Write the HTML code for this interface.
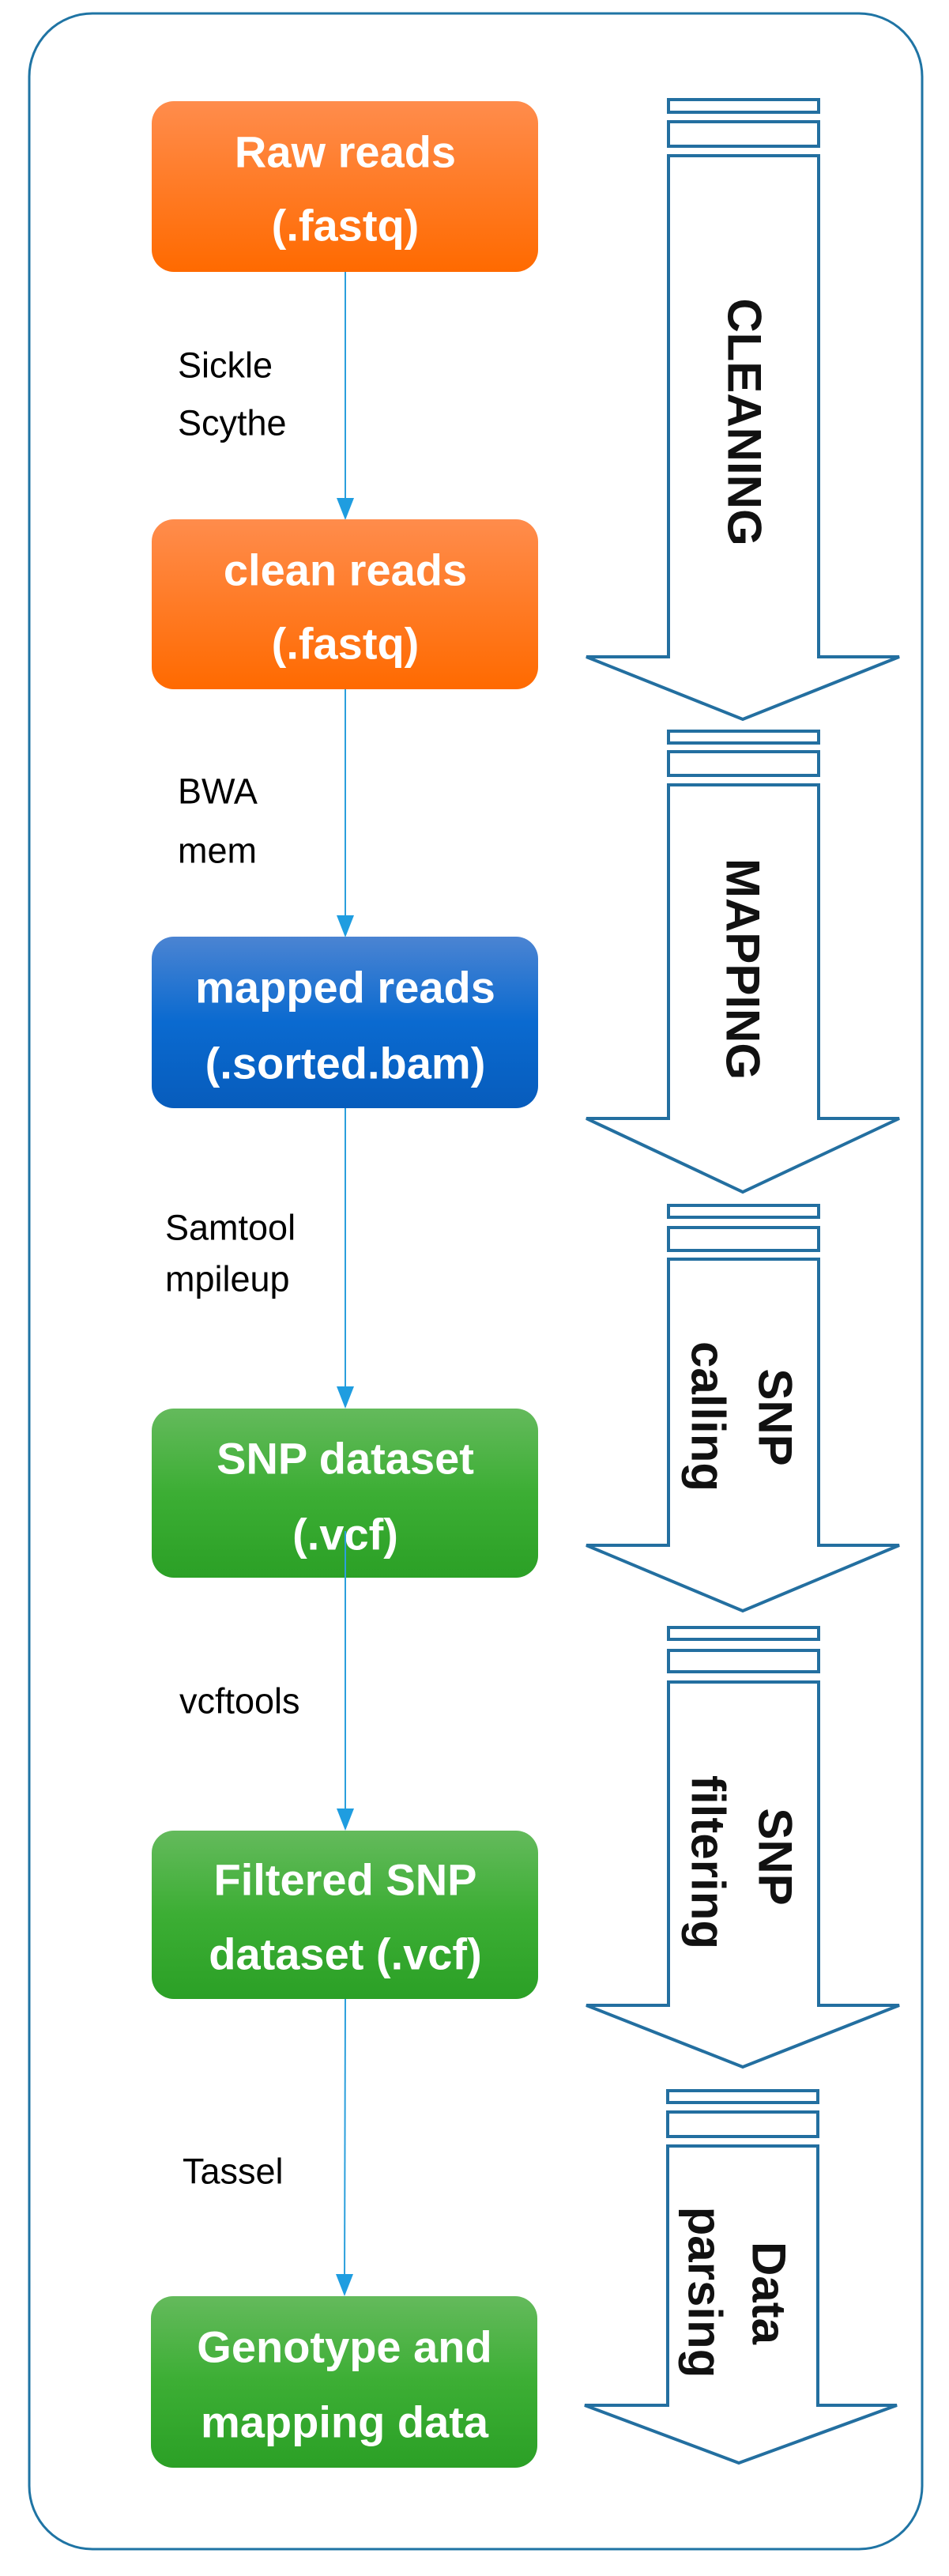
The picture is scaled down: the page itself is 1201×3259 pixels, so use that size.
<!DOCTYPE html>
<html><head><meta charset="utf-8"><style>
html,body{margin:0;padding:0;background:#fff}
svg{display:block}
.lbl{font-family:"Liberation Sans",sans-serif;font-size:45px;fill:#000}
.bt{font-family:"Liberation Sans",sans-serif;font-size:56px;font-weight:bold;fill:#fff;text-anchor:middle;dominant-baseline:central}
.rt{font-family:"Liberation Sans",sans-serif;font-size:60px;font-weight:bold;fill:#111;text-anchor:middle;dominant-baseline:central}
.ar{fill:#fff;stroke:#236fa0;stroke-width:4}
</style></head><body>
<svg width="1201" height="3259" viewBox="0 0 1201 3259" xmlns="http://www.w3.org/2000/svg">
<defs>
<linearGradient id="go" x1="0" y1="0" x2="0" y2="1"><stop offset="0" stop-color="#ff8c4c"/><stop offset="1" stop-color="#ff6a00"/></linearGradient>
<linearGradient id="gb" x1="0" y1="0" x2="0" y2="1"><stop offset="0" stop-color="#4b84d2"/><stop offset="0.5" stop-color="#0a6ad0"/><stop offset="1" stop-color="#075cbc"/></linearGradient>
<linearGradient id="gg" x1="0" y1="0" x2="0" y2="1"><stop offset="0" stop-color="#64ba5c"/><stop offset="0.5" stop-color="#3cae34"/><stop offset="1" stop-color="#2ba026"/></linearGradient>
</defs>
<rect x="37" y="17" width="1130" height="3208" rx="80" ry="80" fill="#fff" stroke="#1f74a4" stroke-width="3"/>

<g stroke="#2b9fdc" stroke-width="2">
<line x1="437" y1="344" x2="437" y2="640"/>
<line x1="437" y1="872" x2="437" y2="1168"/>
<line x1="437" y1="1402" x2="437" y2="1764"/>
<line x1="437" y1="1996" x2="437" y2="2298"/>
<line x1="437" y1="2529" x2="436" y2="2888"/>
</g>
<g fill="#1f9de0">
<polygon points="426,630 448,630 437,658"/>
<polygon points="426,1158 448,1158 437,1186"/>
<polygon points="426,1754 448,1754 437,1782"/>
<polygon points="426,2288 448,2288 437,2316"/>
<polygon points="425,2877 447,2877 436,2905"/>
</g>

<rect x="192" y="128" width="489" height="216" rx="28" fill="url(#go)"/>
<text class="bt" x="437" y="192">Raw reads</text>
<text class="bt" x="437" y="285">(.fastq)</text>
<rect x="192" y="657" width="489" height="215" rx="28" fill="url(#go)"/>
<text class="bt" x="437" y="721">clean reads</text>
<text class="bt" x="437" y="814">(.fastq)</text>
<rect x="192" y="1185" width="489" height="217" rx="28" fill="url(#gb)"/>
<text class="bt" x="437" y="1249">mapped reads</text>
<text class="bt" x="437" y="1345">(.sorted.bam)</text>
<rect x="192" y="1782" width="489" height="214" rx="28" fill="url(#gg)"/>
<text class="bt" x="437" y="1845">SNP dataset</text>
<text class="bt" x="437" y="1941">(.vcf)</text>
<line x1="437" y1="1937" x2="437" y2="1996" stroke="#2b9fdc" stroke-width="2"/>
<rect x="192" y="2316" width="489" height="213" rx="28" fill="url(#gg)"/>
<text class="bt" x="437" y="2378">Filtered SNP</text>
<text class="bt" x="437" y="2472">dataset (.vcf)</text>
<rect x="191" y="2905" width="489" height="217" rx="28" fill="url(#gg)"/>
<text class="bt" x="436" y="2969">Genotype and</text>
<text class="bt" x="436" y="3064">mapping data</text>

<g class="lbl" dominant-baseline="central">
<text x="225" y="462">Sickle</text>
<text x="225" y="535">Scythe</text>
<text x="225" y="1001">BWA</text>
<text x="225" y="1076">mem</text>
<text x="209" y="1553">Samtool</text>
<text x="209" y="1618">mpileup</text>
<text x="227" y="2152">vcftools</text>
<text x="231" y="2747">Tassel</text>
</g>

<g class="ar">
<rect x="846" y="126" width="190" height="16"/><rect x="846" y="154" width="190" height="31"/>
<polygon points="846,197 1036,197 1036,831 1138,831 940,910 742,831 846,831"/>
<rect x="846" y="925" width="190" height="15"/><rect x="846" y="951" width="190" height="30"/>
<polygon points="846,993 1036,993 1036,1415 1138,1415 940,1508 742,1415 846,1415"/>
<rect x="846" y="1525" width="190" height="15"/><rect x="846" y="1553" width="190" height="29"/>
<polygon points="846,1593 1036,1593 1036,1955 1138,1955 940,2038 742,1955 846,1955"/>
<rect x="846" y="2059" width="190" height="15"/><rect x="846" y="2088" width="190" height="27"/>
<polygon points="846,2128 1036,2128 1036,2537 1138,2537 940,2615 742,2537 846,2537"/>
<rect x="845" y="2645" width="190" height="15"/><rect x="845" y="2672" width="190" height="31"/>
<polygon points="845,2715 1035,2715 1035,3043 1135,3043 935,3116 740,3043 845,3043"/>
</g>

<text class="rt" transform="translate(942,534) rotate(90)">CLEANING</text>
<text class="rt" transform="translate(940,1226) rotate(90)">MAPPING</text>
<text class="rt" transform="translate(981,1793) rotate(90)">SNP</text>
<text class="rt" transform="translate(896,1792) rotate(90)">calling</text>
<text class="rt" transform="translate(981,2349) rotate(90)">SNP</text>
<text class="rt" transform="translate(896,2356) rotate(90)">filtering</text>
<text class="rt" transform="translate(973,2901) rotate(90)">Data</text>
<text class="rt" transform="translate(892,2900) rotate(90)">parsing</text>
</svg>
</body></html>
